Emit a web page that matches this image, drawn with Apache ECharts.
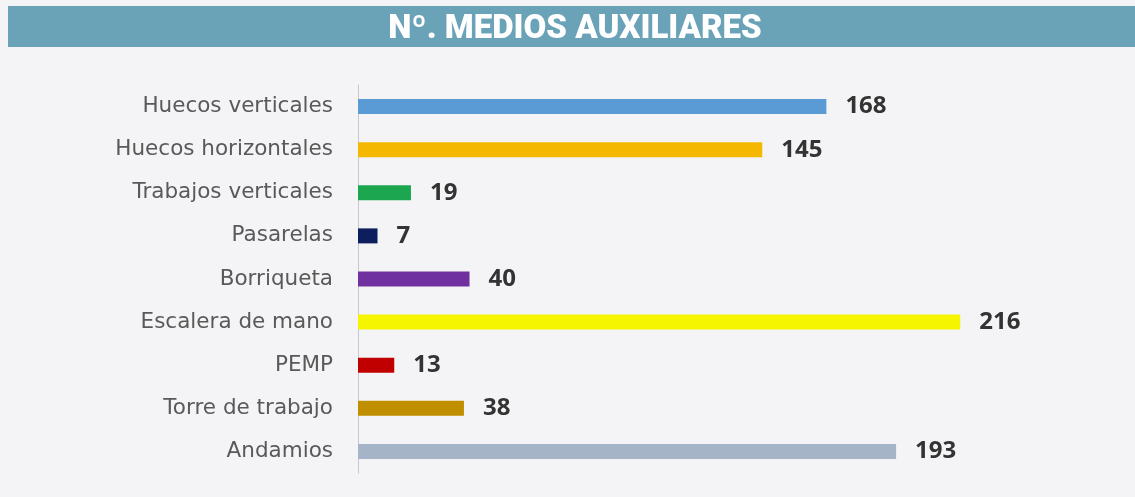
<!DOCTYPE html>
<html>
<head>
<meta charset="utf-8">
<script src="https://cdn.jsdelivr.net/npm/echarts@6/dist/echarts.min.js"></script>
<style>
  html, body { margin: 0; padding: 0; background: #f4f4f6; }
  #main { width: 1135px; height: 497px; }
</style>
</head>
<body>
<div id="main"></div>
<script>
var categorias = ['Huecos verticales', 'Huecos horizontales', 'Trabajos verticales', 'Pasarelas',
                  'Borriqueta', 'Escalera de mano', 'PEMP', 'Torre de trabajo', 'Andamios'];
var valores = [168, 145, 19, 7, 40, 216, 13, 38, 193];
var colores = ['#5b9bd5', '#f5b800', '#1ca650', '#0c1f5c', '#7030a0', '#f5f500', '#c00000', '#bf8f00', '#a6b4c8'];

var myChart = echarts.init(document.getElementById('main'));

var option = {
    backgroundColor: '#f4f4f6',
    graphic: [{
        type: 'rect',
        shape: { x: 8, y: 6, width: 1127, height: 41 },
        style: { fill: '#6aa3b7' }
    }, {
        type: 'text',
        x: 575,
        y: 30,
        style: {
            text: 'Nº. MEDIOS AUXILIARES',
            fill: '#fff',
            font: '900 33px Roboto',
            align: 'center',
            verticalAlign: 'middle'
        }
    }],
    grid: { left: 358, top: 85, height: 388, width: 697 },
    xAxis: {
        type: 'value',
        min: 0,
        max: 250,
        show: false
    },
    yAxis: {
        type: 'category',
        inverse: true,
        data: categorias,
        axisLine: { show: true, lineStyle: { color: '#c8c8cc', width: 1 } },
        axisTick: { show: false },
        axisLabel: {
            margin: 25,
            color: '#595959',
            fontFamily: 'DejaVu Sans',
            fontSize: 21.5,
            padding: [4, 0, 0, 0]
        }
    },
    series: [{
        type: 'bar',
        barWidth: 15,
        data: valores.map(function (v, i) {
            return { value: v, itemStyle: { color: colores[i] } };
        }),
        label: {
            show: true,
            position: 'right',
            distance: 19,
            color: '#333',
            fontFamily: 'Open Sans',
            fontWeight: 'bold',
            fontSize: 24,
            padding: [4, 0, 0, 0]
        }
    }]
};

myChart.setOption(option);
</script>
</body>
</html>
